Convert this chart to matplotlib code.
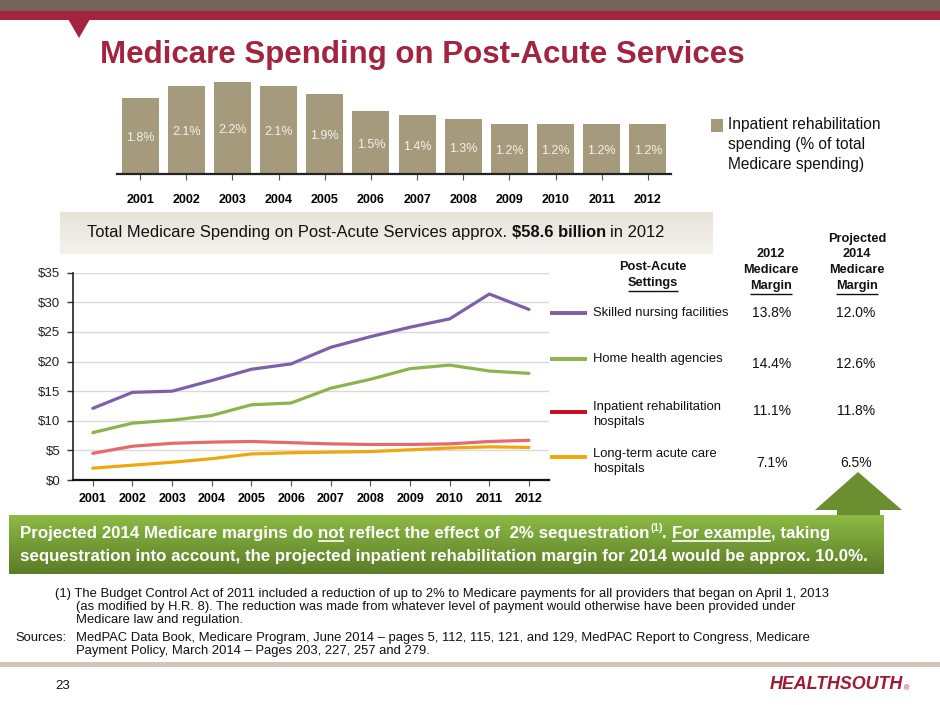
import matplotlib
matplotlib.use('Agg')
import matplotlib.pyplot as plt
import numpy as np
from matplotlib.lines import Line2D
from matplotlib.patches import Polygon, Rectangle
from matplotlib.colors import to_rgb
from matplotlib.ticker import FuncFormatter

plt.rcParams['font.family'] = ['Liberation Sans', 'DejaVu Sans']

# ---------------- data ----------------
years = ['2001', '2002', '2003', '2004', '2005', '2006',
         '2007', '2008', '2009', '2010', '2011', '2012']
irf_share = [1.8, 2.1, 2.2, 2.1, 1.9, 1.5, 1.4, 1.3, 1.2, 1.2, 1.2, 1.2]

snf = [12.1, 14.8, 15.0, 16.8, 18.7, 19.6, 22.4, 24.2, 25.8, 27.2, 31.4, 28.8]
hha = [8.0, 9.6, 10.1, 10.9, 12.7, 13.0, 15.5, 17.0, 18.8, 19.4, 18.4, 18.0]
irf = [4.5, 5.7, 6.2, 6.4, 6.5, 6.3, 6.1, 6.0, 6.0, 6.1, 6.5, 6.7]
ltch = [2.0, 2.5, 3.0, 3.6, 4.4, 4.6, 4.7, 4.8, 5.1, 5.4, 5.6, 5.5]

settings = ['Skilled nursing facilities', 'Home health agencies',
            'Inpatient rehabilitation\nhospitals', 'Long-term acute care\nhospitals']
margin_2012 = ['13.8%', '14.4%', '11.1%', '7.1%']
margin_2014 = ['12.0%', '12.6%', '11.8%', '6.5%']

# ---------------- styles ----------------
CRIMSON = '#A3243F'
TAUPE = '#756359'
BAR = '#A59A7C'
line_colors = ['#7D60A8', '#8DB44A', '#E46A6E', '#F0A70F']
legend_colors = ['#7D60A8', '#8DB44A', '#CC0A1E', '#F0A70F']

W, H = 940, 705
fig = plt.figure(figsize=(W / 100, H / 100), dpi=100)
renderer = fig.canvas.get_renderer()


def fx(x):
    return x / W


def fy(y):
    return 1 - y / H


def T(x, y, s, **kw):
    return fig.text(fx(x), fy(y), s, **kw)


def axes_px(x0, y0, x1, y1, **kw):
    return fig.add_axes([fx(x0), fy(y1), (x1 - x0) / W, (y1 - y0) / H], **kw)


def width_px(s, **kw):
    t = fig.text(0, 0, s, **kw)
    w = t.get_window_extent(renderer).width
    t.remove()
    return w


def fit_size(s, target, base=10, **kw):
    return base * target / width_px(s, size=base, **kw)


def advance(s, **kw):
    return width_px(s + 'x', **kw) - width_px('x', **kw)


def hline_px(x0, x1, y, color, lw, z=4):
    fig.add_artist(Line2D([fx(x0), fx(x1)], [fy(y), fy(y)], transform=fig.transFigure,
                          color=color, lw=lw, solid_capstyle='butt', zorder=z))


def rect_px(x0, y0, x1, y1, color, z=1):
    fig.add_artist(Rectangle((fx(x0), fy(y1)), (x1 - x0) / W, (y1 - y0) / H,
                             transform=fig.transFigure, color=color, lw=0, zorder=z))


def gradient_box(x0, y0, x1, y1, c_top, c_bot, z=1):
    ax = axes_px(x0, y0, x1, y1)
    ax.set_zorder(z)
    t = np.array(to_rgb(c_top))
    b = np.array(to_rgb(c_bot))
    f = np.linspace(0, 1, 64)[:, None]
    img = (t * (1 - f) + b * f)[:, None, :]
    ax.imshow(img, aspect='auto', extent=[0, 1, 0, 1], origin='upper',
              interpolation='bilinear')
    ax.set_axis_off()
    return ax


def underline_text(t, color, lw=1.0, off=2):
    bb = t.get_window_extent(renderer)
    y = H - bb.y0 + off
    hline_px(bb.x0, bb.x1, y, color, lw)


# ---------------- header bands ----------------
rect_px(0, 0, W, 10.5, TAUPE)
rect_px(0, 10.5, W, 20, CRIMSON)
fig.add_artist(Polygon([(fx(68), fy(19)), (fx(90), fy(19)), (fx(79), fy(38))],
                       closed=True, transform=fig.transFigure, color=CRIMSON, lw=0))

title = 'Medicare Spending on Post-Acute Services'
T(100, 63, title, color=CRIMSON, weight='bold', va='baseline', ha='left',
  size=fit_size(title, 645, weight='bold'))

# ---------------- bar chart ----------------
axb = axes_px(117, 70, 671, 174)
x = np.arange(len(years))
axb.bar(x, irf_share, width=0.8, color=BAR, zorder=2)
axb.set_xlim(-0.5, len(years) - 0.5)
axb.set_ylim(0, 104 / 41.95)
for s in ['top', 'right', 'left']:
    axb.spines[s].set_visible(False)
axb.spines['bottom'].set_color('#222222')
axb.spines['bottom'].set_linewidth(1.6)
axb.set_yticks([])
axb.set_xticks(x)
axb.set_xticklabels(years, weight='bold', size=9)
axb.tick_params(axis='x', length=4, width=0.8, color='#555555', pad=10.5)
axb.patch.set_alpha(0)
for i, v in enumerate(irf_share):
    axb.text(i, v / 2 - 0.05, f'{v}%', ha='center', va='center', color='#F4F1EA', size=9)

# legend for bar chart
rect_px(711, 119, 723, 132, BAR)
for yy, s in zip([125, 145, 164], ['Inpatient rehabilitation', 'spending (% of total',
                                   'Medicare spending)']):
    T(728, yy, s, size=11.2, va='center', ha='left', color='#111111')

# ---------------- total spending banner ----------------
gradient_box(60, 212, 713, 254, '#E7E3D9', '#F4F2EC', z=1)
part_a = 'Total Medicare Spending on Post-Acute Services approx.'
sz = fit_size(part_a, 418)
pieces = [(part_a + ' ', 'normal'),
          (r'\$58.6 billion', 'bold'),
          (' in 2012', 'normal')]
xx = 87
for s, wgt in pieces:
    if s.startswith(' '):
        s = s[1:]
        xx += advance(' ', size=sz)
    T(xx, 233, s, size=sz, weight=wgt, va='center', ha='left', color='#111111', zorder=5)
    xx += advance(s, size=sz, weight=wgt)

# ---------------- line chart ----------------
axl = axes_px(73, 272.7, 548.8, 480)
for vals, c in zip([snf, hha, irf, ltch], line_colors):
    axl.plot(x, vals, color=c, lw=2.3, solid_capstyle='round', zorder=3)
axl.set_xlim(-0.5, len(years) - 0.5)
axl.set_ylim(0, 35)
axl.set_yticks(np.arange(0, 36, 5))
axl.yaxis.set_major_formatter(FuncFormatter(lambda v, p: r'\$%d' % v))
axl.set_xticks(x)
axl.set_xticklabels(years, weight='bold', size=9)
axl.grid(axis='y', color='#D9D9D9', lw=1.0, zorder=0)
for s in ['top', 'right']:
    axl.spines[s].set_visible(False)
axl.spines['left'].set_color('#222222')
axl.spines['left'].set_linewidth(1.2)
axl.spines['bottom'].set_color('#111111')
axl.spines['bottom'].set_linewidth(1.6)
axl.tick_params(axis='y', length=4, width=1.0, color='#333333', labelsize=9.5,
                labelcolor='#222222', pad=5)
axl.tick_params(axis='x', length=4, color='#555555', pad=5)
axl.patch.set_alpha(0)

# ---------------- table / legend ----------------
hdr = dict(weight='bold', size=9.2, ha='center', va='center', color='#111111')
T(653, 267, 'Post-Acute', **hdr)
t = T(653, 283, 'Settings', **hdr)
underline_text(t, '#111111')
T(771, 254, '2012', **hdr)
T(771, 270, 'Medicare', **hdr)
t = T(771, 286, 'Margin', **hdr)
underline_text(t, '#111111')
T(857, 239, 'Projected', **hdr)
T(857, 254, '2014', **hdr)
T(857, 270, 'Medicare', **hdr)
t = T(857, 286, 'Margin', **hdr)
underline_text(t, '#111111')

row_line_y = [313, 359, 412, 457]
row_label_y = [313, 359, 414.5, 461.5]
row_val_y = [313, 364, 411, 463]
for i in range(4):
    hline_px(550, 587, row_line_y[i], legend_colors[i], 2.8)
    T(593, row_label_y[i], settings[i], size=9.4, ha='left', va='center',
      linespacing=1.4, color='#111111')
    T(772, row_val_y[i], margin_2012[i], size=10, ha='center', va='center', color='#111111')
    T(856, row_val_y[i], margin_2014[i], size=10, ha='center', va='center', color='#111111')

# ---------------- green arrow + banner ----------------
arrow = [(858, 472), (902, 510), (880, 510), (880, 518), (837, 518), (837, 510), (815, 510)]
fig.add_artist(Polygon([(fx(a), fy(b)) for a, b in arrow], closed=True,
                       transform=fig.transFigure, color='#6B8E30', lw=0, zorder=1))
gradient_box(9, 515, 884, 574, '#8DBA45', '#5B7C27', z=2)

line2 = 'sequestration into account, the projected inpatient rehabilitation margin for 2014 would be approx. 10.0%.'
gsz = fit_size(line2, 850, weight='bold')
gkw = dict(size=gsz, weight='bold', color='white', va='baseline', ha='left', zorder=6)
seg = [('Projected 2014 Medicare margins do ', False, False),
       ('not ', True, False),
       ('reflect the effect of  2% sequestration', False, False),
       ('(1)', False, True),
       ('. ', False, False),
       ('For example', True, False),
       (', taking', False, False)]
xx = 20
base1 = 538
for s, ul, sup in seg:
    if sup:
        kw = dict(gkw, size=gsz * 0.6)
        T(xx + 1, base1 - 7, s, **kw)
        xx += advance(s, size=gsz * 0.6, weight='bold') + 1
        continue
    T(xx, base1, s, **gkw)
    if ul:
        hline_px(xx, xx + width_px(s.rstrip(), size=gsz, weight='bold'), base1 + 2.5, 'white', 1.2, z=6)
    xx += advance(s, size=gsz, weight='bold')
T(20, 561, line2, **gkw)

# ---------------- footnotes ----------------
fn1 = '(1) The Budget Control Act of 2011 included a reduction of up to 2% to Medicare payments for all providers that began on April 1, 2013'
fsz = fit_size(fn1, 777)
fkw = dict(size=fsz, color='#111111', va='center', ha='left')
T(55, 594, fn1, **fkw)
T(76, 607, '(as modified by H.R. 8). The reduction was made from whatever level of payment would otherwise have been provided under', **fkw)
T(76, 620, 'Medicare law and regulation.', **fkw)
T(15, 638, 'Sources:', **fkw)
T(76, 638, 'MedPAC Data Book, Medicare Program, June 2014 \u2013 pages 5, 112, 115, 121, and 129, MedPAC Report to Congress, Medicare', **fkw)
T(76, 651, 'Payment Policy, March 2014 \u2013 Pages 203, 227, 257 and 279.', **fkw)

# bottom divider
rect_px(0, 662, W, 666.5, '#CFC8B8')
T(55, 686, '23', size=9.5, color='#111111', va='center', ha='left')
lsz = fit_size('HEALTHSOUTH', 134, weight='heavy', style='italic')
T(770, 689, 'HEALTHSOUTH', size=lsz, weight='heavy', style='italic', color='#9E1B34',
  va='baseline', ha='left')
T(904, 690, '\u00ae', size=5, color='#9E1B34', va='baseline', ha='left')

fig.savefig('out.png', dpi=100)
